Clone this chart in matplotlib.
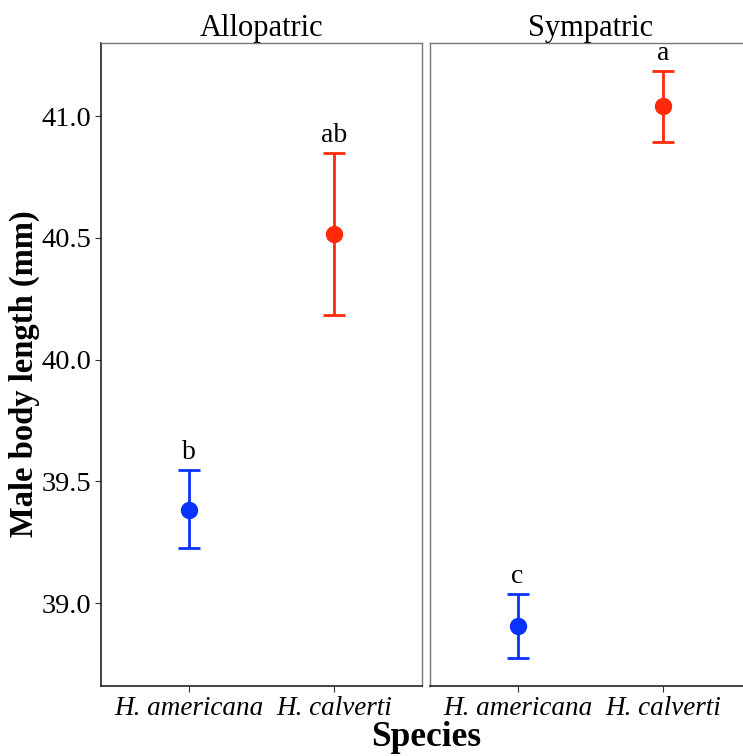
import matplotlib
matplotlib.use("Agg")
import matplotlib.pyplot as plt

plt.rcParams['font.family'] = ['Liberation Serif', 'DejaVu Serif']

panels = ["Allopatric", "Sympatric"]
species = ["H. americana", "H. calverti"]
colors = ["#0a32ff", "#ff2a0a"]

# mean, lower, upper per panel (americana, calverti)
means = [[39.382, 40.515], [38.906, 41.040]]
lower = [[39.226, 40.185], [38.775, 40.895]]
upper = [[39.546, 40.850], [39.037, 41.185]]
letters = [["b", "ab"], ["c", "a"]]

yticks = [39.0, 39.5, 40.0, 40.5, 41.0]
ylim = (38.66, 41.30)

fig = plt.figure(figsize=(7.43, 7.56), dpi=100)
W, H = 743, 756
left_px = [101, 430]
pw = 321
top, bottom = 43, 686

for i, name in enumerate(panels):
    ax = fig.add_axes([left_px[i] / W, 1 - bottom / H, pw / W, (bottom - top) / H])
    for j in range(2):
        m = means[i][j]
        err = [[m - lower[i][j]], [upper[i][j] - m]]
        ax.errorbar(j + 1, m, yerr=err, fmt="o", color=colors[j], ms=11.5,
                    elinewidth=2.0, capsize=8, capthick=2.0)
        ax.text(j + 1, upper[i][j] + 0.02, letters[i][j], ha="center", va="bottom",
                fontsize=20)
    ax.set_xlim(0.4, 2.6)
    ax.set_ylim(*ylim)
    ax.set_xticks([1, 2])
    ax.set_xticklabels(species, fontsize=19.5, style="italic")
    ax.set_yticks(yticks)
    if i == 0:
        ax.set_yticklabels(["%.1f" % t for t in yticks], fontsize=20.5)
    else:
        ax.tick_params(axis="y", left=False, labelleft=False)
    ax.tick_params(axis="both", direction="out", length=4, width=0.8, color="#333333", pad=3)
    for s in ["top", "right", "left"]:
        ax.spines[s].set_color("#777777")
        ax.spines[s].set_linewidth(1.0)
    ax.spines["bottom"].set_color("#222222")
    ax.spines["bottom"].set_linewidth(1.2)
    if i == 0:
        ax.spines["left"].set_color("#222222")
        ax.spines["left"].set_linewidth(1.2)
    ax.set_title(name, fontsize=22, pad=3)

fig.text(426 / W, 1 - 738 / H, "Species", ha="center", va="center",
         fontsize=25.5, fontweight="bold")
fig.text(24 / W, 1 - 374 / H, "Male body length (mm)", ha="center", va="center",
         rotation=90, fontsize=23.5, fontweight="bold")

fig.savefig("out.png", dpi=100)
